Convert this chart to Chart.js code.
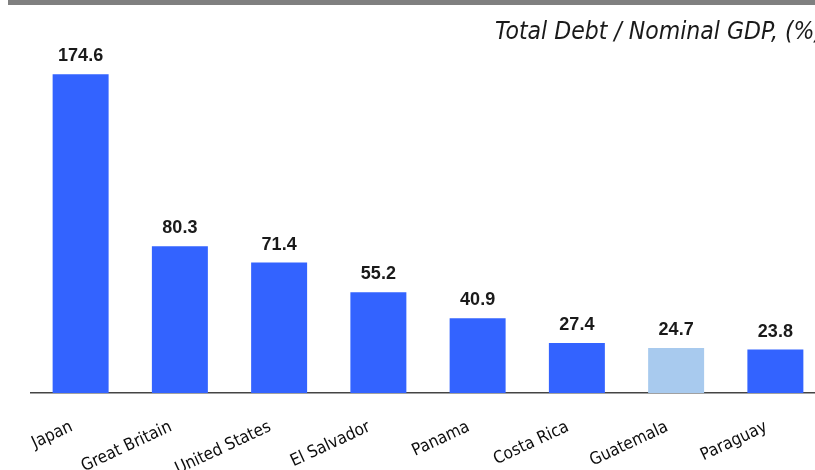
<!DOCTYPE html>
<html>
<head>
<meta charset="utf-8">
<script src="https://cdn.jsdelivr.net/npm/chart.js@4.4.0/dist/chart.umd.min.js"></script>
<style>
  html, body { margin: 0; padding: 0; background: #ffffff; overflow: hidden; }
  #wrap { position: relative; width: 830px; height: 470px; }
  #topbar { position: absolute; left: 8px; top: 0; width: 822px; height: 5px; background: #808080; }
  canvas { position: absolute; left: 0; top: 0; }
</style>
</head>
<body>
<div id="wrap">
  <canvas id="chart" width="830" height="470"></canvas>
  <div id="topbar"></div>
</div>
<script>
// Debt-to-GDP ratios by country
const countries = ["Japan", "Great Britain", "United States", "El Salvador", "Panama", "Costa Rica", "Guatemala", "Paraguay"];
const debtToGdp = [174.6, 80.3, 71.4, 55.2, 40.9, 27.4, 24.7, 23.8];
const highlightCountry = "Guatemala";
const chartTitle = "Total Debt / Nominal GDP, (%)";

const baseColor = "#3363FF";
const highlightColor = "#A8CAEE";
const barColors = countries.map(c => c === highlightCountry ? highlightColor : baseColor);

// Value labels above each bar
const valueLabels = {
  id: "valueLabels",
  afterDatasetsDraw(chart) {
    const ctx = chart.ctx;
    const meta = chart.getDatasetMeta(0);
    ctx.save();
    ctx.font = "bold 18px 'Liberation Sans', Arial, sans-serif";
    ctx.fillStyle = "#1a1a1a";
    ctx.textAlign = "center";
    ctx.textBaseline = "alphabetic";
    meta.data.forEach((bar, i) => {
      ctx.fillText(debtToGdp[i].toFixed(1), bar.x, bar.y - 13);
    });
    ctx.restore();
  }
};

// Italic caption in the upper right
const caption = {
  id: "caption",
  afterDraw(chart) {
    const ctx = chart.ctx;
    ctx.save();
    ctx.font = "oblique 24.5px 'DejaVu Sans Condensed', 'DejaVu Sans', sans-serif";
    ctx.fillStyle = "#1a1a1a";
    ctx.textAlign = "left";
    ctx.textBaseline = "alphabetic";
    ctx.fillText(chartTitle, 495, 39);
    ctx.restore();
  }
};

new Chart(document.getElementById("chart"), {
  type: "bar",
  data: {
    labels: countries,
    datasets: [{
      data: debtToGdp,
      backgroundColor: barColors,
      borderWidth: 0,
      barPercentage: 0.564,
      categoryPercentage: 1.0
    }]
  },
  options: {
    responsive: false,
    animation: false,
    layout: { padding: { top: 46, left: 31, right: 5, bottom: 0 } },
    plugins: {
      legend: { display: false },
      tooltip: { enabled: false },
      title: { display: false }
    },
    scales: {
      x: {
        grid: { display: false, drawTicks: false },
        border: { display: true, color: "#444444", width: 1.5 },
        ticks: {
          color: "#0d0d0d",
          font: { family: "'DejaVu Sans Condensed', 'DejaVu Sans', sans-serif", size: 17 },
          minRotation: 25,
          maxRotation: 25,
          autoSkip: false,
          padding: 24,
          labelOffset: -9
        },
        afterFit(scale) { scale.height = 77; }
      },
      y: {
        display: false,
        min: 0,
        max: 190
      }
    }
  },
  plugins: [valueLabels, caption]
});
</script>
</body>
</html>
